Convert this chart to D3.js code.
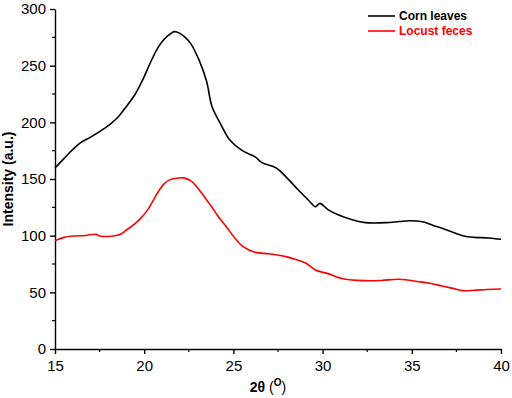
<!DOCTYPE html>
<html>
<head>
<meta charset="utf-8" />
<style>
  body { margin: 0; background: #fff; }
  text { font-family: Arial, "Liberation Sans", sans-serif; }
</style>
</head>
<body>
<svg width="512" height="398"></svg>
<script src="https://d3js.org/d3.v7.min.js"></script>
<script>
  // Corn leaves curve
  var cornX = [15.0, 15.5, 16.0, 16.4, 17.0, 17.5, 18.1, 18.5, 19.0, 19.5, 19.9, 20.3, 20.7, 21.0, 21.3, 21.7,
    22.0, 22.3, 22.6, 23.1, 23.5, 23.8, 24.3, 24.8, 25.5, 26.2, 26.6, 27.4, 28.0, 28.6, 29.2, 29.6, 29.85,
    30.3, 30.9, 31.7, 32.4, 33.55, 34.3, 34.9, 35.6, 36.2, 36.7, 37.3, 37.9, 38.5, 39.3, 40.0];
  var cornY = [159.7, 168, 176, 181.7, 187, 191.8, 198.5, 204, 214, 225, 237, 251, 264, 271, 276, 280,
    278.5, 275, 269.7, 254, 236, 214, 198, 184.4, 175, 169.7, 164.4, 159.7, 151, 141, 131.5, 125.6, 128.5,
    123, 118.2, 113.8, 111.5, 111.5, 112.5, 113.2, 112.3, 109, 106.5, 103, 99.7, 98.5, 98, 96.8];

  // Locust feces curve
  var locustX = [15.0, 15.5, 16.0, 16.7, 17.3, 17.5, 18.25, 18.7, 19.0, 19.4, 19.8, 20.2, 20.5, 20.8,
    21.1, 21.4, 21.8, 22.2, 22.6, 22.9, 23.2, 23.5, 23.8, 24.1, 24.6, 25.1, 25.55, 26.2, 27.0, 27.95, 28.5,
    29.07, 29.6, 30.3, 31.2, 32.4, 33.3, 34.3, 35.4, 36.0, 36.7, 37.3, 37.85, 38.5, 39.2, 40.0];
  var locustY = [95.6, 98.5, 99.7, 100.2, 101.2, 99.7, 99.7, 101.5, 105, 109.5, 115.3, 123, 131, 139,
    145.5, 149, 150.6, 151, 148.5, 144, 138, 131.5, 125, 118, 107.9, 97.5, 90.3, 85.3, 84, 81.5, 79,
    75.6, 69.7, 66.5, 61.8, 60.3, 60.5, 61.5, 59.4, 58, 55.6, 53.5, 51.5, 51.8, 52.5, 52.9];

  var xTicks = [15, 20, 25, 30, 35, 40];
  var xMinor = [17.5, 22.5, 27.5, 32.5, 37.5];
  var yTicks = [0, 50, 100, 150, 200, 250, 300];
  var yMinor = [25, 75, 125, 175, 225, 275];

  var seriesNames = ["Corn leaves", "Locust feces"];
  var seriesColors = ["#000000", "#ff0000"];

  var svg = d3.select("svg");

  var x = d3.scaleLinear().domain([15, 40]).range([55, 501]);
  var y = d3.scaleLinear().domain([0, 300]).range([349, 9]);

  // axes
  var gx = svg.append("g")
    .attr("transform", "translate(0," + y(0) + ")")
    .call(d3.axisBottom(x).tickValues(xTicks).tickSize(5).tickSizeOuter(0).tickPadding(6));
  gx.selectAll(".tick text").attr("font-size", "15px").attr("fill", "#000");
  gx.selectAll(".tick line, .domain").attr("stroke", "#000").attr("stroke-width", 1.4);
  gx.selectAll(".minor").data(xMinor).enter().append("line")
    .attr("x1", function (d) { return x(d); }).attr("x2", function (d) { return x(d); })
    .attr("y1", 0).attr("y2", 3).attr("stroke", "#000").attr("stroke-width", 1.2);

  var gy = svg.append("g")
    .attr("transform", "translate(" + x(15) + ",0)")
    .call(d3.axisLeft(y).tickValues(yTicks).tickSize(5).tickSizeOuter(0).tickPadding(4));
  gy.selectAll(".tick text").attr("font-size", "15px").attr("fill", "#000");
  gy.selectAll(".tick line, .domain").attr("stroke", "#000").attr("stroke-width", 1.4);
  gy.selectAll(".minor").data(yMinor).enter().append("line")
    .attr("y1", function (d) { return y(d); }).attr("y2", function (d) { return y(d); })
    .attr("x1", 0).attr("x2", -3).attr("stroke", "#000").attr("stroke-width", 1.2);

  // axis titles
  svg.append("text")
    .attr("transform", "translate(13," + y(150) + ") rotate(-90)")
    .attr("text-anchor", "middle")
    .attr("font-size", "14px")
    .attr("font-weight", "bold")
    .text("Intensity (a.u.)");

  var xt = svg.append("text")
    .attr("x", 268).attr("y", 392)
    .attr("text-anchor", "middle")
    .attr("font-size", "14px");
  xt.append("tspan").attr("font-weight", "bold").text("2θ ");
  xt.append("tspan").text("(");
  xt.append("tspan").attr("font-weight", "bold").attr("font-size", "10px").attr("dy", -6).text("O");
  xt.append("tspan").attr("dy", 6).text(")");

  // curves
  var line = d3.line()
    .x(function (d) { return x(d[0]); })
    .y(function (d) { return y(d[1]); })
    .curve(d3.curveCatmullRom);

  var series = [d3.zip(cornX, cornY), d3.zip(locustX, locustY)];
  svg.selectAll(".curve").data(series).enter().append("path")
    .attr("class", "curve")
    .attr("d", line)
    .attr("fill", "none")
    .attr("stroke", function (d, i) { return seriesColors[i]; })
    .attr("stroke-width", 1.6);

  // legend
  var lg = svg.append("g").attr("transform", "translate(368,16)");
  seriesNames.forEach(function (name, i) {
    lg.append("line")
      .attr("x1", 0).attr("x2", 27).attr("y1", i * 15).attr("y2", i * 15)
      .attr("stroke", seriesColors[i]).attr("stroke-width", 1.6);
    lg.append("text")
      .attr("x", 31).attr("y", i * 15 + 4)
      .attr("font-size", "12px").attr("font-weight", "bold")
      .attr("fill", seriesColors[i])
      .text(name);
  });
</script>
</body>
</html>
